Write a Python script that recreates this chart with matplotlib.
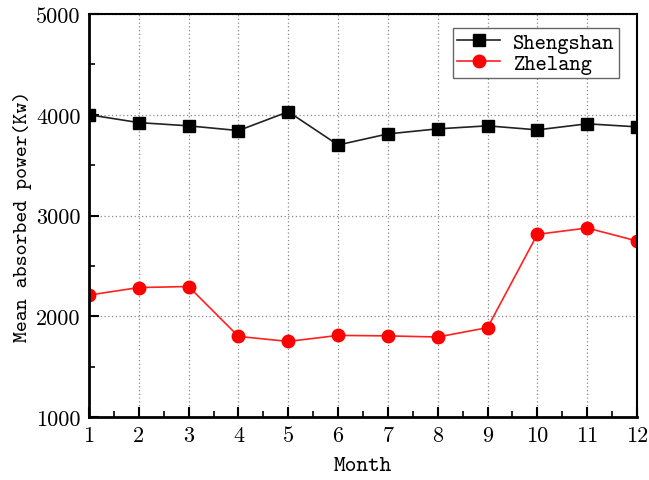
import matplotlib
matplotlib.use("Agg")
import matplotlib.pyplot as plt
from matplotlib.ticker import MultipleLocator

months = list(range(1, 13))
shengshan = [4000, 3922, 3890, 3843, 4030, 3700, 3810, 3860, 3890, 3850, 3910, 3880]
zhelang = [2210, 2285, 2295, 1800, 1750, 1810, 1805, 1794, 1887, 2813, 2876, 2747]

label_font = "cmtt10"
tick_font = "cmr10"

fig = plt.figure(figsize=(6.49, 4.81), dpi=100)
ax = fig.add_axes([89 / 649, 63 / 481, 548 / 649, 403 / 481])

ax.plot(months, shengshan, color="#222222", lw=1.2, marker="s", ms=8,
        mfc="black", mec="black", label="Shengshan")
ax.plot(months, zhelang, color="#ff2020", lw=1.2, marker="o", ms=9,
        mfc="red", mec="red", label="Zhelang")

ax.set_xlim(1, 12)
ax.set_ylim(1000, 5000)
ax.xaxis.set_major_locator(MultipleLocator(1))
ax.xaxis.set_minor_locator(MultipleLocator(0.5))
ax.yaxis.set_major_locator(MultipleLocator(1000))
ax.yaxis.set_minor_locator(MultipleLocator(500))
ax.tick_params(which="both", direction="in", top=False, right=False)
ax.tick_params(which="major", length=7, width=1.5, labelsize=16, pad=6)
ax.tick_params(which="minor", length=4, width=1.2)
for lab in ax.get_xticklabels() + ax.get_yticklabels():
    lab.set_fontfamily(tick_font)

ax.grid(True, which="major", color="#888888", ls=(0, (1, 2)), lw=0.9)
for side in ("left", "bottom"):
    ax.spines[side].set_linewidth(2.0)
for side in ("top", "right"):
    ax.spines[side].set_linewidth(1.5)

ax.set_xlabel("Month", fontfamily=label_font, fontsize=16, labelpad=8)
ax.set_ylabel("Mean absorbed power(Kw)", fontfamily=label_font, fontsize=15,
              labelpad=3)

leg = ax.legend(loc="upper right", bbox_to_anchor=(0.975, 0.975),
                prop={"family": label_font, "size": 15.5}, fancybox=False,
                framealpha=1, edgecolor="#666666", handlelength=2.0,
                borderpad=0.2, labelspacing=0.05, handletextpad=0.6,
                borderaxespad=0.2)
leg.get_frame().set_linewidth(1.0)

fig.savefig("out.png", dpi=100)
